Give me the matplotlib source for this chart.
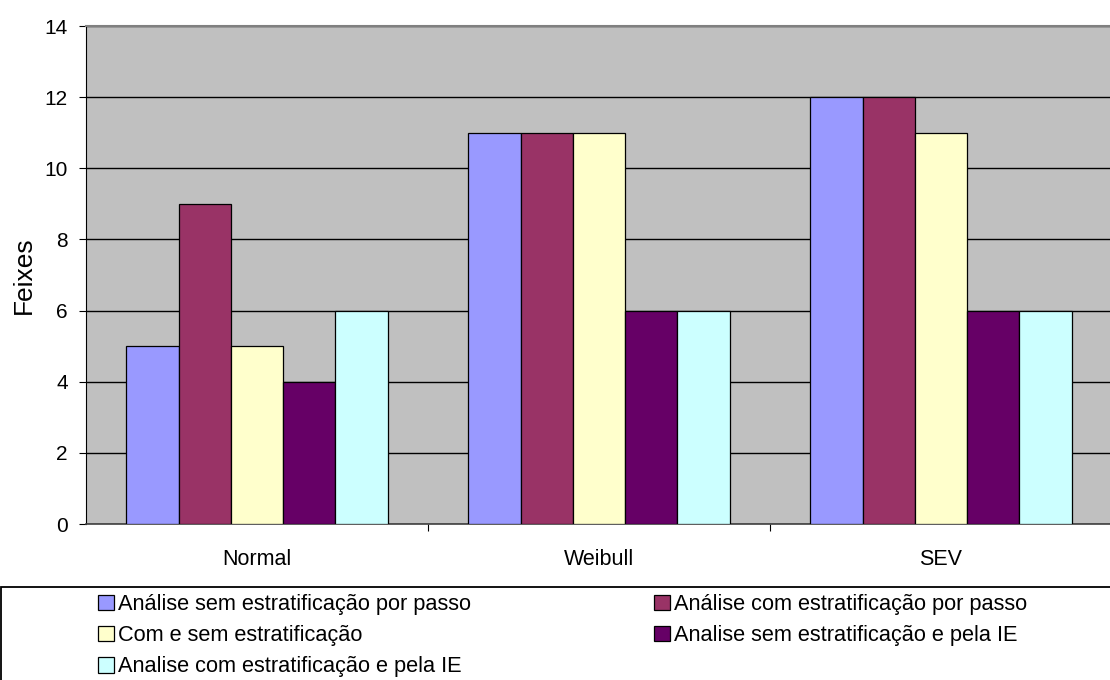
import matplotlib.pyplot as plt
from matplotlib.patches import Rectangle
import numpy as np

plt.rcParams['font.family'] = ['Liberation Sans', 'DejaVu Sans']

# data
categories = ['Normal', 'Weibull', 'SEV']
series_names = ['Análise sem estratificação por passo',
                'Análise com estratificação por passo',
                'Com e sem estratificação',
                'Analise sem estratificação e pela IE',
                'Analise com estratificação e pela IE']
values = [[5, 11, 12],
          [9, 11, 12],
          [5, 11, 11],
          [4, 6, 6],
          [6, 6, 6]]
colors = ['#9999FF', '#993366', '#FFFFCC', '#660066', '#CCFFFF']

W, H = 1110, 680
fig = plt.figure(figsize=(W / 100, H / 100), dpi=100)
ax = fig.add_axes([86 / W, 1 - 524 / H, (1112 - 86) / W, (524 - 26) / H])
ax.set_facecolor('#C0C0C0')

x = np.arange(len(categories))
bw = 0.153
handles = []
for i, (name, vals) in enumerate(zip(series_names, values)):
    b = ax.bar(x + (i - 2) * bw, vals, bw, color=colors[i], edgecolor='black',
               linewidth=0.9, label=name, zorder=3)
    handles.append(b)

ax.set_xlim(-0.5, 2.5)
ax.set_ylim(0, 14)
ax.set_yticks(range(0, 15, 2))
ax.yaxis.grid(True, color='black', linewidth=1.0, zorder=0)
ax.set_axisbelow(True)

ax.set_xticks(x)
ax.set_xticklabels(categories, fontsize=15.5)
ax.set_xticks([0.5, 1.5], minor=True)
ax.tick_params(axis='x', which='major', length=0, pad=18)
ax.tick_params(axis='x', which='minor', length=5, width=0.8, color='black')
ax.tick_params(axis='y', labelsize=15, length=5, width=0.8, pad=8)

ax.spines['right'].set_visible(False)
ax.spines['top'].set_color('#808080')
ax.spines['top'].set_linewidth(1.5)
ax.spines['left'].set_color('black')
ax.spines['bottom'].set_color('#404040')
ax.spines['bottom'].set_linewidth(1.2)

ax.set_ylabel('Feixes', fontsize=19, labelpad=6)

# legend box (runs past the picture edge)
fig.patches.append(Rectangle((1 / W, -0.1), 1.2, 1 - 587 / H + 0.1,
                             transform=fig.transFigure, facecolor='white',
                             edgecolor='black', linewidth=1.3, zorder=0))
# row-wise order as in the reference: column 1 = 0, 2, 4; column 2 = 1, 3
order = [0, 2, 4, 1, 3]
fig.legend(handles=[handles[k] for k in order], loc='upper left', ncol=2,
           frameon=False, bbox_to_anchor=(98 / W, 1 - 594 / H), fontsize=15.7,
           handlelength=0.72, handleheight=0.72, handletextpad=0.2,
           labelspacing=0.47, columnspacing=8.4, borderpad=0, borderaxespad=0)

fig.savefig('out.png', dpi=100)
